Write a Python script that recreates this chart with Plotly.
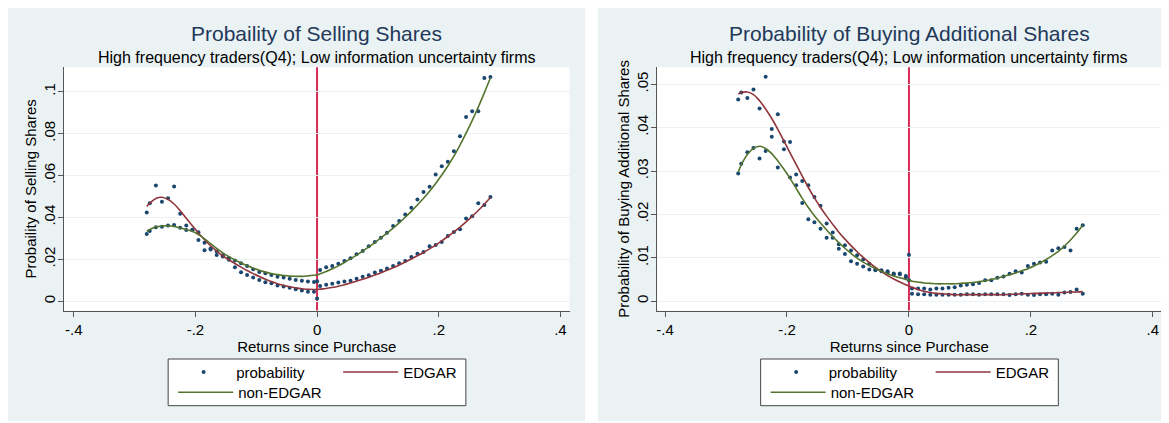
import plotly.graph_objects as go

# The page body has the browser's default 8px margin, so the figure is sized to
# the remaining window area and geometry below is given in window pixels.
WIN_W, WIN_H, OFF = 1169, 423, 8
W, H = WIN_W - OFF, WIN_H - OFF
FONT = "Liberation Sans, Arial, sans-serif"

# ---------------- data ----------------
x_ret = [-0.28, -0.275, -0.265, -0.255, -0.245, -0.235, -0.225, -0.215, -0.205, -0.195,
         -0.185, -0.175, -0.165, -0.155, -0.145, -0.135, -0.125, -0.115, -0.105, -0.095,
         -0.085, -0.075, -0.065, -0.055, -0.045, -0.035, -0.025, -0.015, -0.005, 0.0,
         0.005, 0.015, 0.025, 0.035, 0.045, 0.055, 0.065, 0.075, 0.085, 0.095,
         0.105, 0.115, 0.125, 0.135, 0.145, 0.155, 0.165, 0.175, 0.185, 0.195,
         0.205, 0.215, 0.225, 0.235, 0.245, 0.255, 0.265, 0.275, 0.285]

sell_edgar_prob = [0.0423, 0.0468, 0.0552, 0.0475, 0.0491, 0.0547, 0.0417, 0.0361, 0.0341, 0.0292,
                   0.0243, 0.0247, 0.0221, 0.0214, 0.0198, 0.0162, 0.0138, 0.0125, 0.0113, 0.0102,
                   0.0091, 0.0086, 0.0075, 0.0070, 0.0065, 0.0057, 0.0051, 0.0046, 0.0046, 0.0013,
                   0.0073, 0.0079, 0.0083, 0.0089, 0.0094, 0.0098, 0.0108, 0.0117, 0.0124, 0.0137,
                   0.0146, 0.0156, 0.0168, 0.0181, 0.0192, 0.0211, 0.0227, 0.0235, 0.0263, 0.0268,
                   0.0283, 0.0311, 0.0330, 0.0343, 0.0395, 0.0406, 0.0467, 0.0459, 0.0497]
sell_nonedgar_prob = [0.0321, 0.0335, 0.0353, 0.0356, 0.0361, 0.0364, 0.0351, 0.0340, 0.0339, 0.0329,
                      0.0279, 0.0252, 0.0237, 0.0219, 0.0208, 0.0194, 0.0181, 0.0168, 0.0153, 0.0140,
                      0.0134, 0.0125, 0.0117, 0.0113, 0.0108, 0.0102, 0.0098, 0.0094, 0.0092, 0.0095,
                      0.0149, 0.0162, 0.0168, 0.0179, 0.0192, 0.0205, 0.0224, 0.0240, 0.0263, 0.0283,
                      0.0303, 0.0327, 0.0359, 0.0383, 0.0414, 0.0446, 0.0486, 0.0521, 0.0546, 0.0605,
                      0.0644, 0.0665, 0.0716, 0.0787, 0.0879, 0.0906, 0.0906, 0.1065, 0.1070]
sell_edgar_fit = [0.0452, 0.0468, 0.0490, 0.0496, 0.0486, 0.0464, 0.0432, 0.0396, 0.0360, 0.0326,
                  0.0294, 0.0265, 0.0239, 0.0217, 0.0198, 0.0180, 0.0163, 0.0147, 0.0132, 0.0118,
                  0.0105, 0.0094, 0.0084, 0.0076, 0.0069, 0.0064, 0.0060, 0.0057, 0.0056, 0.0056,
                  0.0058, 0.0061, 0.0066, 0.0072, 0.0079, 0.0087, 0.0096, 0.0105, 0.0115, 0.0125,
                  0.0136, 0.0148, 0.0160, 0.0173, 0.0187, 0.0202, 0.0217, 0.0233, 0.0250, 0.0268,
                  0.0288, 0.0309, 0.0331, 0.0354, 0.0379, 0.0405, 0.0433, 0.0463, 0.0495]
sell_nonedgar_fit = [0.0333, 0.0342, 0.0354, 0.0359, 0.0360, 0.0357, 0.0350, 0.0341, 0.0334, 0.0318,
                     0.0298, 0.0275, 0.0252, 0.0231, 0.0213, 0.0197, 0.0183, 0.0170, 0.0158, 0.0148,
                     0.0139, 0.0132, 0.0127, 0.0123, 0.0120, 0.0119, 0.0119, 0.0121, 0.0124, 0.0126,
                     0.0131, 0.0142, 0.0155, 0.0169, 0.0185, 0.0202, 0.0220, 0.0239, 0.0259, 0.0280,
                     0.0302, 0.0325, 0.0349, 0.0374, 0.0401, 0.0429, 0.0459, 0.0491, 0.0525, 0.0562,
                     0.0602, 0.0645, 0.0692, 0.0745, 0.0802, 0.0862, 0.0926, 0.0994, 0.1066]

buy_edgar_prob = [0.0465, 0.0481, 0.0468, 0.0488, 0.0444, 0.0517, 0.0397, 0.0431, 0.0368, 0.0367,
                  0.0292, 0.0277, 0.0267, 0.0240, 0.0220, 0.0179, 0.0158, 0.0131, 0.0129, 0.0117,
                  0.0106, 0.0096, 0.0086, 0.0073, 0.0071, 0.0069, 0.0064, 0.0064, 0.0058, 0.0048,
                  0.0017, 0.0016, 0.0016, 0.0015, 0.0015, 0.0015, 0.0015, 0.0015, 0.0015, 0.0016,
                  0.0016, 0.0015, 0.0016, 0.0016, 0.0016, 0.0016, 0.0014, 0.0016, 0.0017, 0.0015,
                  0.0014, 0.0016, 0.0016, 0.0017, 0.0015, 0.0020, 0.0021, 0.0027, 0.0017]
buy_nonedgar_prob = [0.0294, 0.0317, 0.0343, 0.0353, 0.0329, 0.0346, 0.0379, 0.0308, 0.0350, 0.0285,
                     0.0267, 0.0226, 0.0189, 0.0182, 0.0167, 0.0146, 0.0146, 0.0121, 0.0109, 0.0092,
                     0.0086, 0.0080, 0.0073, 0.0071, 0.0069, 0.0066, 0.0062, 0.0062, 0.0055, 0.0107,
                     0.0029, 0.0029, 0.0029, 0.0027, 0.0029, 0.0029, 0.0031, 0.0032, 0.0036, 0.0038,
                     0.0039, 0.0042, 0.0048, 0.0048, 0.0054, 0.0057, 0.0063, 0.0069, 0.0066, 0.0081,
                     0.0086, 0.0089, 0.0091, 0.0117, 0.0122, 0.0125, 0.0117, 0.0167, 0.0175]
buy_edgar_fit = [0.0477, 0.0481, 0.0482, 0.0476, 0.0462, 0.0443, 0.0421, 0.0396, 0.0369, 0.0342,
                 0.0315, 0.0288, 0.0262, 0.0238, 0.0216, 0.0196, 0.0177, 0.0159, 0.0143, 0.0128,
                 0.0114, 0.0101, 0.0089, 0.0078, 0.0068, 0.0059, 0.0051, 0.0044, 0.0038, 0.0035,
                 0.0032, 0.0027, 0.0023, 0.0020, 0.0018, 0.0017, 0.0016, 0.0015, 0.0015, 0.0015,
                 0.0015, 0.0015, 0.0015, 0.0015, 0.0015, 0.0015, 0.0016, 0.0016, 0.0017, 0.0017,
                 0.0018, 0.0018, 0.0019, 0.0019, 0.0020, 0.0020, 0.0021, 0.0021, 0.0022]
buy_nonedgar_fit = [0.0297, 0.0314, 0.0338, 0.0352, 0.0357, 0.0352, 0.0340, 0.0323, 0.0304, 0.0283,
                    0.0260, 0.0237, 0.0216, 0.0197, 0.0180, 0.0164, 0.0149, 0.0135, 0.0122, 0.0110,
                    0.0099, 0.0090, 0.0082, 0.0075, 0.0069, 0.0063, 0.0058, 0.0054, 0.0050, 0.0048,
                    0.0046, 0.0044, 0.0042, 0.0041, 0.0040, 0.0040, 0.0040, 0.0040, 0.0041, 0.0042,
                    0.0043, 0.0045, 0.0047, 0.0050, 0.0053, 0.0057, 0.0061, 0.0065, 0.0070, 0.0075,
                    0.0081, 0.0088, 0.0096, 0.0105, 0.0115, 0.0127, 0.0141, 0.0157, 0.0175]

x_tickvals = [-0.4, -0.2, 0.0, 0.2, 0.4]
x_ticktext = ["-.4", "-.2", "0", ".2", ".4"]
sell_tickvals = [0, 0.02, 0.04, 0.06, 0.08, 0.1]
sell_ticktext = ["0", ".02", ".04", ".06", ".08", ".1"]
buy_tickvals = [0, 0.01, 0.02, 0.03, 0.04, 0.05]
buy_ticktext = ["0", ".01", ".02", ".03", ".04", ".05"]

titles = ["Probaility of Selling Shares", "Probability of Buying Additional Shares"]
subtitle = "High frequency traders(Q4); Low information uncertainty firms"
x_title = "Returns since Purchase"
y_titles = ["Probaility of Selling Shares", "Probability of Buying Additional Shares"]
legend_labels = ["probability", "EDGAR", "non-EDGAR"]

# ---------------- styling / geometry (window pixels) ----------------
C_DOT = "#1A476F"
C_EDGAR = "#90353B"
C_NON = "#55752F"
C_XLINE = "#D62B54"
C_BG = "#EAF2F3"
C_AX = "#555555"
C_TITLE = "#22395A"

PLOT_TOP, PLOT_BOT = 67.3, 310.5
panels = [
    dict(bg=(7, 585), plot=(64, 569.5), xr=[-0.416, 0.415], yr=[-0.0044, 0.1116],
         tv=sell_tickvals, tt=sell_ticktext,
         series=(sell_edgar_prob, sell_nonedgar_prob, sell_edgar_fit, sell_nonedgar_fit)),
    dict(bg=(598, 1166), plot=(656.5, 1162), xr=[-0.414, 0.415], yr=[-0.00215, 0.0539],
         tv=buy_tickvals, tt=buy_ticktext,
         series=(buy_edgar_prob, buy_nonedgar_prob, buy_edgar_fit, buy_nonedgar_fit)),
]


def fx(p):
    return (p - OFF) / W


def fy(p):
    return 1 - (p - OFF) / H


fig = go.Figure()
shapes = []
annotations = []
layout = dict(
    width=W, height=H, template="none",
    margin=dict(l=0, r=0, t=0, b=0),
    paper_bgcolor="white", plot_bgcolor="rgba(0,0,0,0)",
    font=dict(family=FONT, size=15, color="black"),
    showlegend=True,
)

for p in panels:
    bx0, bx1 = p["bg"]
    shapes.append(dict(type="rect", xref="paper", yref="paper", layer="below",
                       x0=fx(bx0), x1=fx(bx1), y0=fy(421), y1=fy(6),
                       fillcolor=C_BG, line=dict(width=0)))

ITEMW = 55
for i, p in enumerate(panels):
    n = i + 1
    xa = "x" if n == 1 else f"x{n}"
    ya = "y" if n == 1 else f"y{n}"
    e_prob, n_prob, e_fit, n_fit = p["series"]
    lg = [f"legend{3 * i + k + 1}" if 3 * i + k > 0 else "legend" for k in range(3)]

    fig.add_trace(go.Scatter(x=x_ret, y=e_prob, mode="markers", name=legend_labels[0],
                             marker=dict(color=C_DOT, size=4), xaxis=xa, yaxis=ya,
                             legend=lg[0], showlegend=True))
    fig.add_trace(go.Scatter(x=x_ret, y=n_prob, mode="markers", name=legend_labels[0],
                             marker=dict(color=C_DOT, size=4), xaxis=xa, yaxis=ya,
                             legend=lg[0], showlegend=False))
    fig.add_trace(go.Scatter(x=x_ret, y=e_fit, mode="lines", name=legend_labels[1],
                             line=dict(color=C_EDGAR, width=1.6, shape="spline"),
                             xaxis=xa, yaxis=ya, legend=lg[1]))
    fig.add_trace(go.Scatter(x=x_ret, y=n_fit, mode="lines", name=legend_labels[2],
                             line=dict(color=C_NON, width=1.6, shape="spline"),
                             xaxis=xa, yaxis=ya, legend=lg[2]))

    x0, x1 = p["plot"]
    layout["xaxis" if n == 1 else f"xaxis{n}"] = dict(
        domain=[fx(x0), fx(x1)], range=p["xr"], anchor=ya,
        tickvals=x_tickvals, ticktext=x_ticktext, ticks="outside", ticklen=5,
        tickcolor=C_AX, tickwidth=1, showline=True, linecolor=C_AX, linewidth=1,
        showgrid=False, zeroline=False, automargin=False,
        tickfont=dict(size=15, color="black"),
        title=dict(text=x_title, font=dict(size=15, color="black"), standoff=0),
    )
    layout["yaxis" if n == 1 else f"yaxis{n}"] = dict(
        domain=[fy(PLOT_BOT), fy(PLOT_TOP)], range=p["yr"], anchor=xa,
        tickvals=p["tv"], ticktext=p["tt"], tickangle=-90, ticks="outside", ticklen=5,
        ticklabelstandoff=-3,
        tickcolor=C_AX, tickwidth=1, showline=True, linecolor=C_AX, linewidth=1,
        showgrid=True, gridcolor=C_BG, gridwidth=1, zeroline=False, automargin=False,
        tickfont=dict(size=15, color="black"),
        title=dict(text=y_titles[i], font=dict(size=15, color="black"), standoff=0),
    )

    shapes.append(dict(type="rect", xref="paper", yref="paper", layer="below",
                       x0=fx(x0), x1=fx(x1), y0=fy(PLOT_BOT), y1=fy(PLOT_TOP),
                       fillcolor="white", line=dict(width=0)))
    shapes.append(dict(type="line", xref=xa, yref="paper", layer="below",
                       x0=0, x1=0, y0=fy(PLOT_BOT), y1=fy(PLOT_TOP),
                       line=dict(color=C_XLINE, width=2)))

    cx = (x0 + x1) / 2
    annotations.append(dict(text=titles[i], x=fx(cx), y=fy(33.5), xref="paper", yref="paper",
                            xanchor="center", yanchor="middle", showarrow=False,
                            font=dict(size=21, color=C_TITLE)))
    annotations.append(dict(text=subtitle, x=fx(cx), y=fy(57.3), xref="paper", yref="paper",
                            xanchor="center", yanchor="middle", showarrow=False,
                            font=dict(size=16, color="black")))

    L = cx - 148.6
    shapes.append(dict(type="rect", xref="paper", yref="paper", layer="below",
                       x0=fx(L), x1=fx(L + 297.7), y0=fy(405.7), y1=fy(359),
                       fillcolor="white", line=dict(color="#444444", width=1)))
    origins = [(L + 3, 372.2), (L + 170, 372.2), (L + 5, 392.5)]
    for k in range(3):
        ox, oy = origins[k]
        layout[lg[k]] = dict(x=fx(ox), xanchor="left", y=fy(oy), yanchor="middle",
                             bgcolor="rgba(0,0,0,0)", borderwidth=0, itemwidth=ITEMW,
                             font=dict(size=15, color="black", family=FONT),
                             itemclick=False, itemdoubleclick=False)

layout["shapes"] = shapes
layout["annotations"] = annotations
fig.update_layout(**layout)
fig.write_html("out.html")
